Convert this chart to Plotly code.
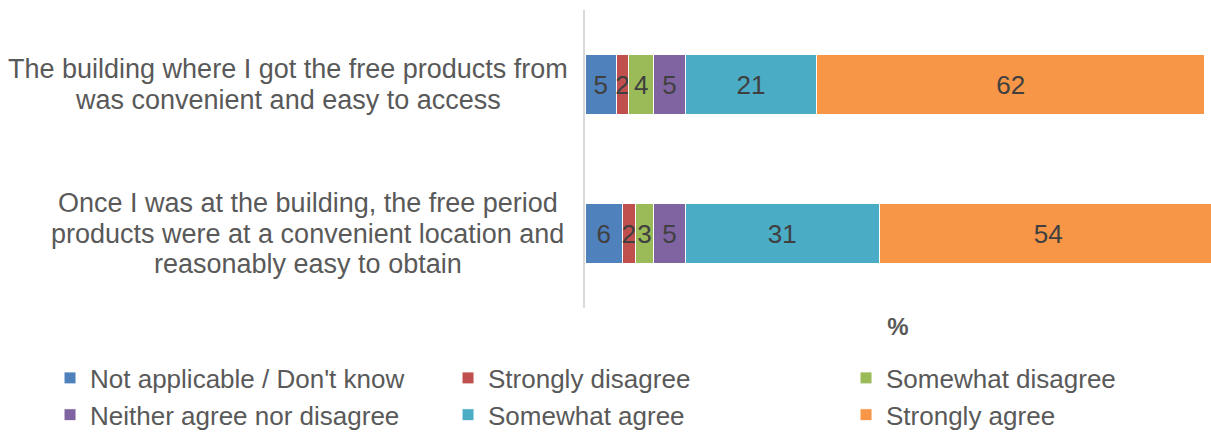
import plotly.graph_objects as go

# Survey statements (top to bottom) and their wrapped display lines
statements = [
    "The building where I got the free products from was convenient and easy to access",
    "Once I was at the building, the free period products were at a convenient location and reasonably easy to obtain",
]
statement_lines = [
    ["The building where I got the free products from", "was convenient and easy to access"],
    ["Once I was at the building, the free period", "products were at a convenient location and", "reasonably easy to obtain"],
]
# horizontal centre of each wrapped label block, in plot-width fractions left of the axis
label_center = [-0.4744, -0.4425]
LINE_PX = 30.5  # line spacing of the wrapped labels

# Response categories and colours
responses = [
    "Not applicable / Don't know",
    "Strongly disagree",
    "Somewhat disagree",
    "Neither agree nor disagree",
    "Somewhat agree",
    "Strongly agree",
]
colors = ["#4F81BD", "#C0504D", "#9BBB59", "#8064A2", "#4BACC6", "#F79646"]

# Percentages per response, one value per statement
not_applicable = [5, 6]
strongly_disagree = [2, 2]
somewhat_disagree = [4, 3]
neither = [5, 5]
somewhat_agree = [21, 31]
strongly_agree = [62, 54]

series = [not_applicable, strongly_disagree, somewhat_disagree, neither, somewhat_agree, strongly_agree]

FONT = "Liberation Sans, Arial, sans-serif"
GREY = "#595959"

fig = go.Figure()
for name, vals, col in zip(responses, series, colors):
    fig.add_trace(go.Bar(
        y=statements,
        x=vals,
        name=name,
        orientation="h",
        marker=dict(color=col, line=dict(color="white", width=1)),
        texttemplate="%{x}",
        textposition="inside",
        insidetextanchor="middle",
        textfont=dict(family=FONT, size=26, color="#404040"),
        hoverinfo="skip",
    ))

# Category labels: one centred annotation per wrapped line
for stmt, lines, xc in zip(statements, statement_lines, label_center):
    n = len(lines)
    for i, line in enumerate(lines):
        fig.add_annotation(
            text=line,
            xref="paper", yref="y",
            x=xc, y=stmt,
            xanchor="center", yanchor="middle",
            yshift=((n - 1) / 2 - i) * LINE_PX,
            showarrow=False,
            font=dict(family=FONT, size=27, color=GREY),
        )

fig.update_layout(
    width=1211, height=432,
    barmode="stack",
    bargap=0.6,
    margin=dict(l=585, r=0, t=10, b=124, autoexpand=False),
    paper_bgcolor="white",
    plot_bgcolor="white",
    font=dict(family=FONT, size=26, color=GREY),
    uniformtext=dict(minsize=26, mode="show"),
    showlegend=True,
    legend=dict(
        orientation="h",
        x=-0.8546, xanchor="left",
        y=-0.156, yanchor="top",
        entrywidth=353, entrywidthmode="pixels",
        font=dict(family=FONT, size=26, color=GREY),
        traceorder="normal",
    ),
    xaxis=dict(
        range=[0, 100],
        showgrid=False, zeroline=False,
        showticklabels=False, ticks="",
        title=dict(text="<b>%</b>", font=dict(family=FONT, size=24, color=GREY), standoff=10),
        fixedrange=True,
    ),
    yaxis=dict(
        autorange="reversed",
        showticklabels=False, ticks="",
        showgrid=False, zeroline=False,
        showline=True, linecolor="#D9D9D9", linewidth=2,
        fixedrange=True,
    ),
)

fig.write_html("out.html")
